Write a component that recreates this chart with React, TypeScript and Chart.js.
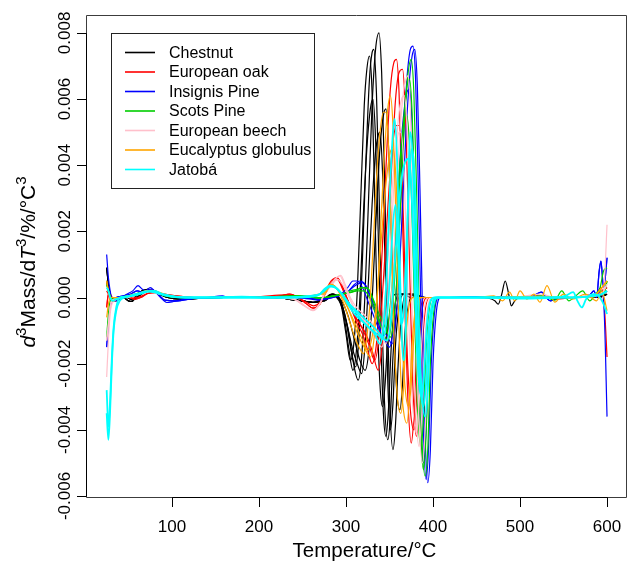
import React, { useEffect, useRef } from "react";
import { Chart, registerables } from "chart.js";

Chart.register(...registerables);

type Pt = [number, number];

const speciesNames = [
  "Chestnut",
  "European oak",
  "Insignis Pine",
  "Scots Pine",
  "European beech",
  "Eucalyptus globulus",
  "Jatobá",
];
const speciesColors = ["#000000", "#FF0000", "#0000FF", "#00CD00", "#FFC0CB", "#FFA500", "#00FFFF"];

const xTicks = [100, 200, 300, 400, 500, 600];
const yTicks = [-0.006, -0.004, -0.002, 0, 0.002, 0.004, 0.006, 0.008];
const yTickLabels = ["-0.006", "-0.004", "-0.002", "0.000", "0.002", "0.004", "0.006", "0.008"];

// ---------- low temperature segments (25-270 °C) ----------
const chestnutLowA: Pt[] = [[25,0.0009],[27,0.0004],[29,0.0001],[31,-0.0001],[34,-0.0001],[38,0],[44,0],[50,-0.0001],[54,-0.00012],[60,0.0001],[66,0.0002],[72,0.00025],[78,0.0002],[86,0.0001],[95,0],[110,-0.00005],[130,-0.00003],[160,0],[190,0],[220,0],[240,-0.00008],[255,-0.00012],[265,-0.00015],[270,-0.00012]];
const chestnutLowB: Pt[] = [[25,0.0005],[27,0.0002],[29,0],[31,-0.0001],[35,-0.00005],[40,0],[48,0],[55,-0.00008],[62,0.00005],[70,0.00018],[78,0.00022],[88,0.0001],[100,0],[120,-0.00003],[160,0],[200,0],[230,-0.00003],[250,-0.0001],[262,-0.00015],[270,-0.0001]];
const oakLowA: Pt[] = [[25,-0.0003],[27,0.0001],[29,0.0001],[32,-0.00005],[36,-0.0001],[42,0],[50,0],[58,-0.00005],[64,0],[72,0.00012],[80,0.00015],[90,0.0001],[105,0.00005],[125,0],[160,0],[200,0],[225,0.00005],[235,0.0001],[245,0],[255,-0.0002],[262,-0.00032],[270,-0.0002]];
const oakLowB: Pt[] = [[25,0.0002],[27,0.0001],[30,-0.0001],[34,-0.00005],[40,0],[50,0.00003],[60,0],[70,0.0001],[80,0.00018],[92,0.00008],[110,0],[150,0],[200,0.00003],[230,0.00008],[245,0],[255,-0.00015],[263,-0.00025],[270,-0.00015]];
const pineLowA: Pt[] = [[25,0.0013],[27,0.0006],[29,0.0002],[32,-0.0001],[36,-0.0001],[42,0],[48,0.0001],[55,0.0002],[61,0.00036],[66,0.00025],[70,0.0002],[75,0.0003],[80,0.0002],[87,0],[94,-0.00015],[102,-0.00012],[115,-0.00005],[140,0],[158,0.00005],[165,0],[200,0],[240,0],[260,-0.00005],[270,-0.00008]];
const pineLowB: Pt[] = [[25,-0.0015],[27,-0.0008],[29,-0.0003],[32,-0.0001],[36,0],[44,0.00005],[52,0.0001],[60,0.0002],[68,0.00015],[76,0.00025],[84,0.0001],[92,-0.00008],[105,-0.0001],[125,-0.00003],[160,0],[200,0],[240,0],[260,-0.00003],[270,-0.00005]];
const scotsLowA: Pt[] = [[25,-0.0012],[27,-0.0005],[29,-0.0001],[32,0],[36,-0.00005],[42,0],[50,0.00005],[58,0.0001],[66,0.00015],[74,0.0002],[82,0.00015],[92,0.00005],[105,0],[130,0],[180,0.00003],[200,0],[230,0.00003],[250,0.00005],[262,0],[270,-0.00003]];
const scotsLowB: Pt[] = [[25,0.0004],[27,0.0002],[30,0],[34,-0.00005],[40,0],[50,0.00005],[60,0.0001],[70,0.0002],[80,0.00018],[90,0.00008],[105,0],[140,0],[200,0],[240,0.00005],[260,0.00003],[270,0]];
const beechLowA: Pt[] = [[25,-0.0024],[27,-0.0013],[29,-0.0005],[31,-0.0002],[34,-0.0001],[38,0],[45,0],[55,0.00005],[65,0.00015],[75,0.0002],[85,0.00012],[95,0.00005],[110,0],[150,0],[200,0],[230,-0.00003],[245,-0.0001],[255,-0.0003],[262,-0.0004],[270,-0.0002]];
const beechLowB: Pt[] = [[25,-0.0013],[27,-0.0008],[29,-0.0003],[31,-0.0001],[34,-0.00005],[38,0],[48,0],[60,0.0001],[72,0.0002],[84,0.00012],[98,0.00004],[120,0],[170,0],[220,0],[240,-0.00005],[252,-0.00025],[262,-0.00038],[270,-0.00018]];
const eucLowA: Pt[] = [[25,0.0005],[27,0.0002],[29,0],[32,-0.0001],[36,-0.00005],[42,0],[50,0.00005],[60,0.0001],[70,0.00018],[78,0.0002],[88,0.00012],[100,0.00003],[120,0],[160,0],[200,0],[240,0],[260,0.00005],[270,0.0001]];
const eucLowB: Pt[] = [[25,-0.0006],[27,-0.0002],[29,0],[32,0],[38,0],[46,0.00003],[56,0.0001],[66,0.00015],[76,0.00022],[86,0.00015],[98,0.00005],[120,0],[170,0],[220,0],[250,0.00003],[270,0.0001]];
const jatLowA: Pt[] = [[25,-0.0035],[27,-0.0043],[29,-0.0034],[31,-0.002],[33,-0.001],[36,-0.0004],[40,-0.0001],[46,0],[55,0.00005],[65,0.00012],[75,0.0002],[85,0.00012],[95,0.00005],[110,0],[150,0],[180,0.00003],[200,0],[240,0],[260,0.00003],[270,0.0001]];
const jatLowB: Pt[] = [[25,0.0003],[27,0.0002],[29,0],[32,-0.0001],[36,-0.00005],[42,0],[52,0.00005],[62,0.00012],[72,0.00018],[82,0.00015],[95,0.00005],[115,0],[160,0],[210,0],[250,0.00003],[270,0.0001]];
const jatLowC: Pt[] = [[25,-0.0028],[27,-0.0039],[29,-0.0031],[31,-0.0018],[33,-0.0009],[36,-0.0003],[40,0],[48,0.00003],[58,0.0001],[70,0.00018],[80,0.0002],[90,0.0001],[105,0.00003],[130,0],[180,0],[230,0],[260,0.00005],[270,0.0001]];

// ---------- main decomposition segments (275-414 °C) ----------
const chestnut1: Pt[] = [[275,-0.00005],[283,0.0001],[290,0.00005],[295,-0.0003],[300,-0.0011],[305,-0.0019],[309,-0.0014],[313,0.0002],[317,0.003],[321,0.0058],[324,0.0069],[327,0.0073],[330,0.0062],[333,0.003],[336,-0.0005],[339,-0.0026],[342,-0.0033],[345,-0.0026],[348,-0.0012],[352,-0.0002],[357,0.0001],[365,0.0001],[375,0],[390,0],[405,0]];
const chestnut2: Pt[] = [[275,-0.00005],[284,0.0001],[292,0],[298,-0.0006],[303,-0.0015],[308,-0.0022],[312,-0.0016],[316,0],[320,0.0025],[324,0.0045],[328,0.0057],[331,0.006],[334,0.0048],[337,0.002],[340,-0.0012],[343,-0.0035],[346,-0.0042],[349,-0.0033],[352,-0.0015],[356,-0.0003],[361,0.0001],[370,0.0001],[385,0],[405,0]];
const chestnut3: Pt[] = [[275,-0.00005],[285,0.0001],[294,-0.0001],[300,-0.0007],[306,-0.0016],[311,-0.0021],[315,-0.0012],[319,0.0012],[323,0.0042],[327,0.0066],[330,0.0074],[332,0.0075],[335,0.0062],[338,0.0032],[341,-0.0003],[344,-0.003],[348,-0.0043],[351,-0.0036],[354,-0.0018],[358,-0.0004],[363,0.0001],[372,0.0001],[388,0],[405,0]];
const chestnut4: Pt[] = [[275,-0.0001],[285,0.0001],[295,-0.0002],[302,-0.0009],[308,-0.0019],[314,-0.0025],[318,-0.0018],[322,0.0002],[326,0.003],[330,0.0058],[334,0.0075],[338,0.008],[341,0.0068],[344,0.004],[347,0.0003],[350,-0.003],[354,-0.0046],[357,-0.0038],[360,-0.002],[364,-0.0005],[369,0.0001],[378,0.0001],[392,0],[405,0]];
const chestnut5: Pt[] = [[275,-0.0001],[284,0.00008],[294,-0.0002],[301,-0.0008],[308,-0.0016],[313,-0.002],[318,-0.0023],[322,-0.0014],[326,0.0006],[330,0.0028],[334,0.0044],[337,0.0049],[339,0.005],[342,0.0038],[345,0.001],[348,-0.0025],[351,-0.004],[354,-0.0032],[357,-0.0014],[361,-0.0003],[366,0.0001],[375,0.0001],[390,0],[405,0]];
const chestnut6: Pt[] = [[275,-0.0001],[285,0.00005],[295,-0.0001],[303,-0.0006],[310,-0.0013],[316,-0.0019],[322,-0.0022],[327,-0.0014],[331,0.0004],[335,0.0026],[339,0.0045],[343,0.0055],[346,0.0057],[349,0.0045],[352,0.002],[355,-0.0008],[358,-0.0027],[362,-0.0034],[365,-0.0026],[368,-0.001],[372,-0.0002],[378,0.0001],[390,0],[405,0]];

const oak1: Pt[] = [[275,0.0001],[282,0.0004],[289,0.0006],[295,0.0004],[301,0],[307,-0.0004],[313,-0.0008],[319,-0.0011],[325,-0.0016],[330,-0.002],[335,-0.0014],[339,0],[343,0.0022],[347,0.0045],[351,0.0063],[355,0.0071],[358,0.0072],[361,0.0062],[364,0.0035],[367,0.0002],[371,-0.003],[375,-0.0044],[378,-0.0036],[381,-0.0018],[385,-0.0005],[390,0],[398,0],[405,0]];
const oak2: Pt[] = [[275,0.0001],[283,0.0005],[290,0.0006],[296,0.0003],[302,-0.0001],[309,-0.0005],[316,-0.0008],[323,-0.0011],[330,-0.0016],[337,-0.0022],[341,-0.0016],[345,-0.0002],[349,0.002],[353,0.0042],[357,0.006],[361,0.0068],[365,0.0069],[368,0.0058],[371,0.0032],[374,0],[377,-0.0028],[381,-0.0042],[384,-0.0035],[387,-0.0018],[391,-0.0004],[396,0],[405,0]];
const oak3: Pt[] = [[275,0.00005],[283,0.0004],[290,0.00055],[297,0.0002],[304,-0.0002],[311,-0.0006],[318,-0.0009],[326,-0.0014],[333,-0.0019],[338,-0.0012],[342,0.0001],[346,0.0018],[350,0.0035],[354,0.0047],[358,0.0052],[361,0.0052],[364,0.004],[367,0.0015],[370,-0.0014],[374,-0.0034],[378,-0.004],[381,-0.0031],[384,-0.0014],[388,-0.0003],[394,0],[405,0]];

const pine1: Pt[] = [[275,-0.00005],[285,0],[295,0.0001],[303,0.0002],[310,0.0004],[316,0.0005],[322,0.0004],[328,0],[334,-0.0005],[340,-0.001],[345,-0.0013],[350,-0.0015],[354,-0.001],[358,0.0003],[362,0.0025],[366,0.0048],[370,0.0066],[374,0.0075],[377,0.0076],[380,0.0066],[383,0.0035],[386,-0.0002],[389,-0.004],[392,-0.0055],[395,-0.0045],[398,-0.002],[402,-0.0004],[407,0],[412,0]];
const pine2: Pt[] = [[275,-0.00005],[285,0],[295,0.00008],[303,0.0002],[310,0.00035],[318,0.00045],[324,0.0003],[330,-0.0001],[337,-0.0006],[343,-0.001],[348,-0.0012],[353,-0.0014],[357,-0.0008],[361,0.0006],[365,0.0028],[369,0.005],[373,0.0066],[376,0.0073],[379,0.0075],[382,0.0064],[385,0.0033],[388,-0.0005],[391,-0.0042],[394,-0.0056],[397,-0.0046],[400,-0.002],[404,-0.0004],[409,0],[414,0]];
const pine3: Pt[] = [[275,-0.00003],[285,0.00003],[295,0.00012],[302,0.0003],[308,0.0005],[313,0.0005],[319,0.0003],[325,-0.0001],[331,-0.0005],[337,-0.0009],[342,-0.0011],[347,-0.0013],[351,-0.0008],[355,0.0006],[359,0.0026],[363,0.0045],[367,0.0057],[370,0.0062],[373,0.0063],[376,0.0052],[379,0.0026],[382,-0.0006],[385,-0.0036],[389,-0.005],[392,-0.004],[395,-0.0018],[399,-0.0003],[404,0],[410,0]];

const scots1: Pt[] = [[275,0],[285,0.00005],[295,0.0001],[303,0.00015],[311,0.0002],[318,0.0003],[324,0.0003],[330,0],[336,-0.0005],[342,-0.001],[348,-0.0013],[352,-0.0008],[356,0.0006],[360,0.0026],[364,0.0045],[368,0.0059],[371,0.0065],[373,0.0066],[376,0.0056],[379,0.003],[382,-0.0004],[385,-0.0036],[389,-0.0052],[392,-0.0042],[395,-0.0018],[399,-0.0003],[404,0],[410,0]];
const scots2: Pt[] = [[275,0],[285,0.00005],[295,0.0001],[305,0.0002],[313,0.00025],[320,0.0003],[326,0.00025],[332,-0.0001],[338,-0.0005],[345,-0.0009],[351,-0.0012],[355,-0.0007],[359,0.0008],[363,0.003],[367,0.0052],[371,0.0067],[375,0.0072],[378,0.0062],[381,0.0034],[384,-0.0003],[387,-0.004],[391,-0.0054],[394,-0.0046],[397,-0.002],[401,-0.0004],[406,0],[412,0]];
const scots3: Pt[] = [[275,0],[285,0.00003],[295,0.0001],[305,0.00015],[313,0.0002],[321,0.0002],[327,0],[333,-0.0004],[339,-0.0008],[345,-0.0011],[349,-0.0007],[353,0.0004],[357,0.002],[361,0.0037],[365,0.005],[368,0.0055],[370,0.0055],[373,0.0046],[376,0.0024],[379,-0.0005],[382,-0.0032],[386,-0.0045],[389,-0.0037],[392,-0.0016],[396,-0.0003],[401,0],[408,0]];

const beech1: Pt[] = [[275,0.0001],[283,0.0004],[289,0.0006],[293,0.00065],[298,0.0004],[304,0],[311,-0.0004],[318,-0.0006],[325,-0.0008],[331,-0.0011],[336,-0.0013],[341,-0.0015],[345,-0.001],[349,0.0004],[353,0.0024],[357,0.0043],[361,0.0056],[364,0.006],[367,0.0061],[370,0.0052],[373,0.0028],[376,-0.0004],[380,-0.0034],[384,-0.0045],[387,-0.0036],[390,-0.0016],[394,-0.0003],[399,0],[406,0]];
const beech2: Pt[] = [[275,0.00012],[284,0.00045],[290,0.00062],[294,0.00067],[299,0.0004],[305,0],[312,-0.0003],[320,-0.0005],[328,-0.0007],[335,-0.001],[341,-0.0012],[346,-0.0014],[350,-0.0008],[354,0.0008],[358,0.003],[362,0.005],[366,0.0062],[369,0.0066],[371,0.0067],[374,0.0057],[377,0.003],[380,-0.0005],[384,-0.0038],[388,-0.005],[391,-0.004],[394,-0.0018],[398,-0.0003],[403,0],[410,0]];
const beech3: Pt[] = [[275,0.00008],[283,0.00035],[290,0.00055],[296,0.0004],[302,0.0001],[309,-0.0003],[316,-0.0006],[324,-0.0008],[331,-0.0011],[338,-0.0013],[342,-0.0008],[346,0.0004],[350,0.002],[354,0.0036],[358,0.0046],[361,0.005],[363,0.005],[366,0.0042],[369,0.002],[372,-0.0006],[376,-0.003],[381,-0.0041],[384,-0.0032],[387,-0.0014],[391,-0.0002],[396,0],[405,0]];

const euc1: Pt[] = [[275,0.0002],[282,0.0004],[287,0.00035],[293,0.0001],[299,-0.0003],[305,-0.0008],[310,-0.0012],[315,-0.0015],[320,-0.0017],[324,-0.0012],[328,0],[332,0.002],[336,0.004],[340,0.0052],[343,0.0056],[346,0.0056],[349,0.0045],[352,0.002],[355,-0.001],[359,-0.003],[363,-0.0035],[366,-0.0028],[369,-0.0012],[373,-0.0002],[378,0],[390,0],[405,0]];
const euc2: Pt[] = [[275,0.00015],[283,0.0004],[289,0.0003],[295,0.0001],[302,-0.0003],[309,-0.0008],[315,-0.0012],[321,-0.0015],[328,-0.0018],[332,-0.0013],[336,0],[340,0.0022],[344,0.0043],[348,0.0057],[351,0.0061],[354,0.0052],[357,0.0028],[360,-0.0002],[363,-0.0024],[366,-0.0034],[370,-0.0038],[373,-0.003],[376,-0.0014],[380,-0.0003],[385,0],[395,0],[405,0]];
const euc3: Pt[] = [[275,0.0001],[282,0.00035],[288,0.0003],[295,0.00005],[302,-0.0003],[309,-0.0007],[316,-0.0011],[321,-0.0014],[325,-0.0016],[330,-0.0012],[335,-0.0002],[339,0.0012],[343,0.0026],[347,0.0037],[351,0.0044],[354,0.0045],[357,0.0038],[360,0.002],[363,-0.0003],[366,-0.002],[369,-0.003],[372,-0.0033],[375,-0.0026],[378,-0.0012],[382,-0.0002],[388,0],[405,0]];

const jat1: Pt[] = [[275,0.00025],[282,0.00036],[288,0.0003],[295,0.0001],[302,-0.0002],[310,-0.0005],[318,-0.0007],[326,-0.0009],[333,-0.0011],[339,-0.0014],[343,-0.0009],[347,0.0008],[351,0.0035],[354,0.005],[356,0.0054],[359,0.004],[362,0.0008],[366,-0.0019],[369,-0.0008],[371,0.0025],[374,0.005],[377,0.004],[380,0.0008],[384,-0.0022],[389,-0.0033],[392,-0.0026],[395,-0.001],[399,-0.0002],[404,0],[410,0]];
const jat2: Pt[] = [[275,0.0002],[282,0.00033],[289,0.00028],[296,0.00008],[304,-0.0002],[312,-0.0004],[320,-0.0006],[328,-0.0008],[336,-0.001],[343,-0.0012],[347,-0.0006],[351,0.0008],[354,0.0022],[357,0.0028],[360,0.0015],[363,-0.0008],[366,-0.0005],[369,0.0012],[372,0.0032],[376,0.0045],[379,0.0036],[382,0.0008],[386,-0.0024],[391,-0.0036],[394,-0.0028],[397,-0.001],[401,-0.0002],[406,0],[412,0]];
const jat3: Pt[] = [[275,0.00022],[282,0.00035],[288,0.0003],[296,0.0001],[304,-0.0002],[313,-0.0005],[322,-0.0008],[331,-0.001],[340,-0.0012],[347,-0.0013],[352,-0.0006],[356,0.001],[360,0.0025],[364,0.0036],[368,0.0041],[372,0.0042],[375,0.0034],[378,0.0012],[381,-0.0012],[384,-0.0026],[387,-0.003],[390,-0.0022],[393,-0.0008],[397,-0.0001],[402,0],[410,0]];

// ---------- high temperature segments (415-600 °C) ----------
const chestnutHighA: Pt[] = [[415,0],[430,0],[450,0],[465,-0.00003],[471,-0.0001],[475,-0.0002],[479,0.0001],[483,0.0005],[487,0.0001],[490,-0.00025],[494,-0.0001],[500,0],[520,0],[550,0],[575,0],[590,0.00005],[596,0.0001],[600,0.0002]];
const chestnutHighB: Pt[] = [[415,0],[450,0],[500,0],[550,0],[590,0],[600,0.0001]];
const oakHighA: Pt[] = [[415,0],[450,0],[480,0.00003],[500,0],[520,0.00005],[540,-0.00005],[560,0],[580,0.00005],[588,0.0001],[593,0.0003],[597,-0.0003],[600,-0.0018]];
const oakHighB: Pt[] = [[415,0],[460,0],[500,0.00003],[540,0],[570,0],[590,0.00005],[595,0.0002],[600,0.0003]];
const pineHighA: Pt[] = [[415,0],[450,0.00003],[480,0],[505,0],[515,0.00005],[520,0.00012],[525,0.00016],[530,0],[535,-0.0001],[545,0],[570,0],[580,0.00008],[585,0.0002],[588,0],[591,0.0008],[593,0.0011],[596,0.0003],[598,0.0006],[600,0.0012]];
const pineHighB: Pt[] = [[415,0],[460,0],[500,0.00003],[540,0],[575,0],[585,0.00005],[590,0.0001],[594,0.0002],[597,-0.0006],[600,-0.0036]];
const scotsHighA: Pt[] = [[415,0],[460,0],[500,0],[525,0.00005],[540,-0.00008],[548,0.0002],[556,-0.0001],[564,0.00005],[572,0.0002],[580,-0.0001],[587,0.0001],[592,0.0003],[596,0.0008],[600,0.0009]];
const scotsHighB: Pt[] = [[415,0],[470,0],[520,0],[560,0],[585,0.00005],[592,0.0002],[596,0.0001],[600,0.0005]];
const beechHighA: Pt[] = [[415,0],[460,0],[500,0.00003],[525,0.0001],[540,0],[570,0.00003],[588,0.0001],[594,-0.0001],[597,0.0005],[600,0.0022]];
const beechHighB: Pt[] = [[415,0],[470,0],[530,0],[570,0],[590,0.00008],[596,0.0002],[600,0.0004]];
const eucHighA: Pt[] = [[415,0],[450,0],[470,0.00005],[480,-0.0001],[488,0.00016],[494,-0.0001],[500,0.0002],[508,-0.00005],[516,0.0001],[523,-0.00014],[531,0.00036],[540,-0.00014],[550,0.0001],[560,-0.00005],[575,0.0001],[588,-0.0001],[594,0.0002],[600,-0.0004]];
const eucHighB: Pt[] = [[415,0],[470,0],[520,0.00003],[560,0],[585,0.00005],[594,0.0003],[600,0.0005]];
const jatHighA: Pt[] = [[415,0],[460,0],[500,-0.00003],[540,0],[552,0.00005],[561,0.00016],[566,-0.0001],[571,-0.0003],[576,-0.00005],[585,0.0001],[592,0],[596,-0.0002],[600,-0.0005]];
const jatHighB: Pt[] = [[415,0],[470,0],[520,0],[560,0],[585,0.00005],[594,0.0001],[600,0.0002]];

type Curve = { s: number; low: Pt[]; mid: Pt[]; high: Pt[] };

const curves: Curve[] = [
  { s: 0, low: chestnutLowA, mid: chestnut1, high: chestnutHighB },
  { s: 0, low: chestnutLowB, mid: chestnut2, high: chestnutHighB },
  { s: 0, low: chestnutLowA, mid: chestnut3, high: chestnutHighA },
  { s: 0, low: chestnutLowB, mid: chestnut4, high: chestnutHighB },
  { s: 0, low: chestnutLowB, mid: chestnut5, high: chestnutHighB },
  { s: 0, low: chestnutLowA, mid: chestnut6, high: chestnutHighB },
  { s: 1, low: oakLowA, mid: oak1, high: oakHighA },
  { s: 1, low: oakLowB, mid: oak2, high: oakHighB },
  { s: 1, low: oakLowA, mid: oak3, high: oakHighB },
  { s: 2, low: pineLowA, mid: pine1, high: pineHighA },
  { s: 2, low: pineLowB, mid: pine2, high: pineHighB },
  { s: 2, low: pineLowB, mid: pine3, high: pineHighA },
  { s: 3, low: scotsLowA, mid: scots1, high: scotsHighA },
  { s: 3, low: scotsLowB, mid: scots2, high: scotsHighB },
  { s: 3, low: scotsLowB, mid: scots3, high: scotsHighB },
  { s: 4, low: beechLowA, mid: beech1, high: beechHighA },
  { s: 4, low: beechLowB, mid: beech2, high: beechHighB },
  { s: 4, low: beechLowB, mid: beech3, high: beechHighB },
  { s: 5, low: eucLowA, mid: euc1, high: eucHighA },
  { s: 5, low: eucLowB, mid: euc2, high: eucHighB },
  { s: 5, low: eucLowA, mid: euc3, high: eucHighB },
  { s: 6, low: jatLowA, mid: jat1, high: jatHighA },
  { s: 6, low: jatLowB, mid: jat2, high: jatHighB },
  { s: 6, low: jatLowC, mid: jat3, high: jatHighB },
];

const FONT = '"Liberation Sans", Arial, Helvetica, sans-serif';

const decorPlugin = {
  id: "decor",
  afterDraw(chart: any) {
    const { ctx, chartArea: a, scales } = chart;
    const xs = scales.x;
    const ys = scales.y;
    ctx.save();
    // plot box
    ctx.strokeStyle = "#3c3c3c";
    ctx.lineWidth = 1;
    ctx.beginPath();
    ctx.rect(a.left - 0.5, a.top + 0.5, a.right - a.left + 1, a.bottom - a.top);
    ctx.stroke();
    // axes
    ctx.strokeStyle = "#000";
    const bx0 = Math.round(xs.getPixelForValue(xTicks[0])) + 0.5;
    const bx1 = Math.round(xs.getPixelForValue(xTicks[xTicks.length - 1])) + 0.5;
    ctx.beginPath();
    ctx.moveTo(bx0, a.bottom + 0.5);
    ctx.lineTo(bx1, a.bottom + 0.5);
    const ly0 = Math.round(ys.getPixelForValue(yTicks[0])) + 0.5;
    const ly1 = Math.round(ys.getPixelForValue(yTicks[yTicks.length - 1])) + 0.5;
    ctx.moveTo(a.left - 0.5, ly0);
    ctx.lineTo(a.left - 0.5, ly1);
    xTicks.forEach((t) => {
      const px = Math.round(xs.getPixelForValue(t)) + 0.5;
      ctx.moveTo(px, a.bottom + 0.5);
      ctx.lineTo(px, a.bottom + 10);
    });
    yTicks.forEach((t) => {
      const py = Math.round(ys.getPixelForValue(t)) + 0.5;
      ctx.moveTo(a.left - 0.5, py);
      ctx.lineTo(a.left - 10, py);
    });
    ctx.stroke();
    // tick labels
    ctx.fillStyle = "#000";
    ctx.font = `17px ${FONT}`;
    ctx.textAlign = "center";
    ctx.textBaseline = "alphabetic";
    xTicks.forEach((t) => {
      ctx.fillText(String(t), xs.getPixelForValue(t), 532);
    });
    yTicks.forEach((t, i) => {
      ctx.save();
      ctx.translate(70, ys.getPixelForValue(t));
      ctx.rotate(-Math.PI / 2);
      ctx.fillText(yTickLabels[i], 0, 0);
      ctx.restore();
    });
    // x title
    ctx.font = `20.5px ${FONT}`;
    ctx.fillText("Temperature/°C", 364.5, 557);
    // y title with superscripts
    const base = 21;
    const sup = 15;
    const parts = [
      { t: "d", it: true, sp: false },
      { t: "3", it: false, sp: true },
      { t: "Mass/d", it: false, sp: false },
      { t: "T", it: true, sp: false },
      { t: "3", it: false, sp: true },
      { t: "/%/°C", it: false, sp: false },
      { t: "3", it: false, sp: true },
    ];
    const fontFor = (p: any) => `${p.it ? "italic " : ""}${p.sp ? sup : base}px ${FONT}`;
    let total = 0;
    parts.forEach((p) => {
      ctx.font = fontFor(p);
      total += ctx.measureText(p.t).width;
    });
    ctx.save();
    ctx.translate(35, 262);
    ctx.rotate(-Math.PI / 2);
    ctx.textAlign = "left";
    let cx = -total / 2;
    parts.forEach((p) => {
      ctx.font = fontFor(p);
      ctx.fillText(p.t, cx, p.sp ? -9 : 0);
      cx += ctx.measureText(p.t).width;
    });
    ctx.restore();
    // legend
    ctx.strokeStyle = "#222";
    ctx.lineWidth = 1;
    ctx.strokeRect(111.5, 33.5, 203, 155);
    ctx.font = `16px ${FONT}`;
    ctx.textAlign = "left";
    ctx.textBaseline = "middle";
    speciesNames.forEach((name, i) => {
      const ry = 52.5 + i * 19.5;
      ctx.strokeStyle = speciesColors[i];
      ctx.lineWidth = 1.6;
      ctx.beginPath();
      ctx.moveTo(125, ry);
      ctx.lineTo(155, ry);
      ctx.stroke();
      ctx.fillStyle = "#000";
      ctx.fillText(name, 169, ry + 1);
    });
    ctx.restore();
  },
};

export default function App() {
  const ref = useRef<HTMLCanvasElement | null>(null);
  useEffect(() => {
    if (!ref.current) return;
    const datasets = curves.map((c, i) => ({
      label: speciesNames[c.s],
      data: [...c.low, ...c.mid, ...c.high].map(([x, y]) => ({ x, y })),
      borderColor: speciesColors[c.s],
      borderWidth: c.s === 6 ? 1.8 : 1.2,
      pointRadius: 0,
      fill: false,
      cubicInterpolationMode: "monotone" as const,
      order: curves.length - i,
    }));
    const chart = new Chart(ref.current, {
      type: "line",
      data: { datasets },
      options: {
        animation: false,
        responsive: false,
        maintainAspectRatio: false,
        layout: { padding: { left: 87, right: 1, top: 15, bottom: 70 } },
        plugins: { legend: { display: false }, tooltip: { enabled: false } },
        scales: {
          x: { type: "linear", min: 2.4, max: 621.8, display: false },
          y: { type: "linear", min: -0.00603, max: 0.00854, display: false },
        },
      },
      plugins: [decorPlugin],
    });
    return () => chart.destroy();
  }, []);
  return (
    <div style={{ position: "absolute", left: 0, top: 0, width: 627, height: 567, background: "#fff" }}>
      <canvas ref={ref} width={627} height={567} style={{ width: 627, height: 567 }} />
    </div>
  );
}
